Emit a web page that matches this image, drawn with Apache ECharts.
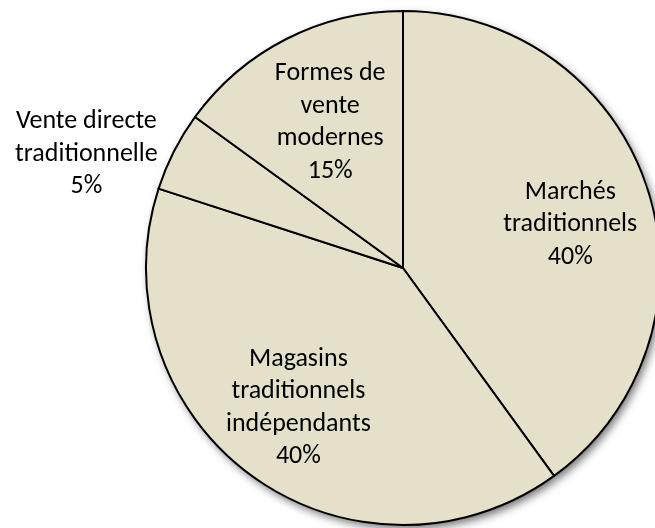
<!DOCTYPE html>
<html>
<head>
<meta charset="utf-8">
<script src="https://cdn.jsdelivr.net/npm/echarts@6/dist/echarts.min.js"></script>
<style>html,body{margin:0;padding:0;background:#fff}#c{width:655px;height:528px}</style>
</head>
<body>
<div id="c"></div>
<script>
var categories = ["Marchés\ntraditionnels", "Magasins\ntraditionnels\nindépendants", "Vente directe\ntraditionnelle", "Formes de\nvente\nmodernes"];
var values = [40, 40, 5, 15];

var data = categories.map(function (c, i) { return { name: c, value: values[i] }; });
var fill = '#e5e0c9';
var labelShift = [[-2, 12], [0, -4], [-158, -33], [8, 13]];
var chart = echarts.init(document.getElementById('c'), null, { renderer: 'canvas' });
chart.setOption({
  backgroundColor: '#ffffff',
  animation: false,
  series: [
    {
      type: 'pie', z: 1, silent: true,
      center: [403, 268], radius: 257, startAngle: 90, clockwise: true,
      label: { show: false }, labelLine: { show: false },
      itemStyle: { color: fill, borderWidth: 0, shadowBlur: 8, shadowOffsetX: 3, shadowOffsetY: 4, shadowColor: 'rgba(0,0,0,0.55)' },
      emphasis: { disabled: true },
      data: data
    },
    {
      type: 'pie', z: 2, silent: true,
      center: [403, 268], radius: 257, startAngle: 90, clockwise: true,
      label: { show: false }, labelLine: { show: false },
      itemStyle: { color: fill, borderColor: '#000', borderWidth: 2 },
      emphasis: { disabled: true },
      data: data
    },
    {
      type: 'pie', z: 3, silent: true,
      center: [403, 268], radius: [0, 350], startAngle: 90, clockwise: true,
      itemStyle: { color: 'rgba(0,0,0,0)', borderWidth: 0 },
      emphasis: { disabled: true },
      label: {
        show: true, position: 'inside',
        formatter: function (p) { return p.name + '\n' + p.value + '%'; },
        fontFamily: 'Carlito, Lato, sans-serif', fontSize: 26, lineHeight: 32.6,
        color: '#000', align: 'center'
      },
      labelLine: { show: false },
      labelLayout: function (p) {
        var s = labelShift[p.dataIndex];
        return { dx: s[0], dy: s[1] };
      },
      data: data
    }
  ]
});
</script>
</body>
</html>
